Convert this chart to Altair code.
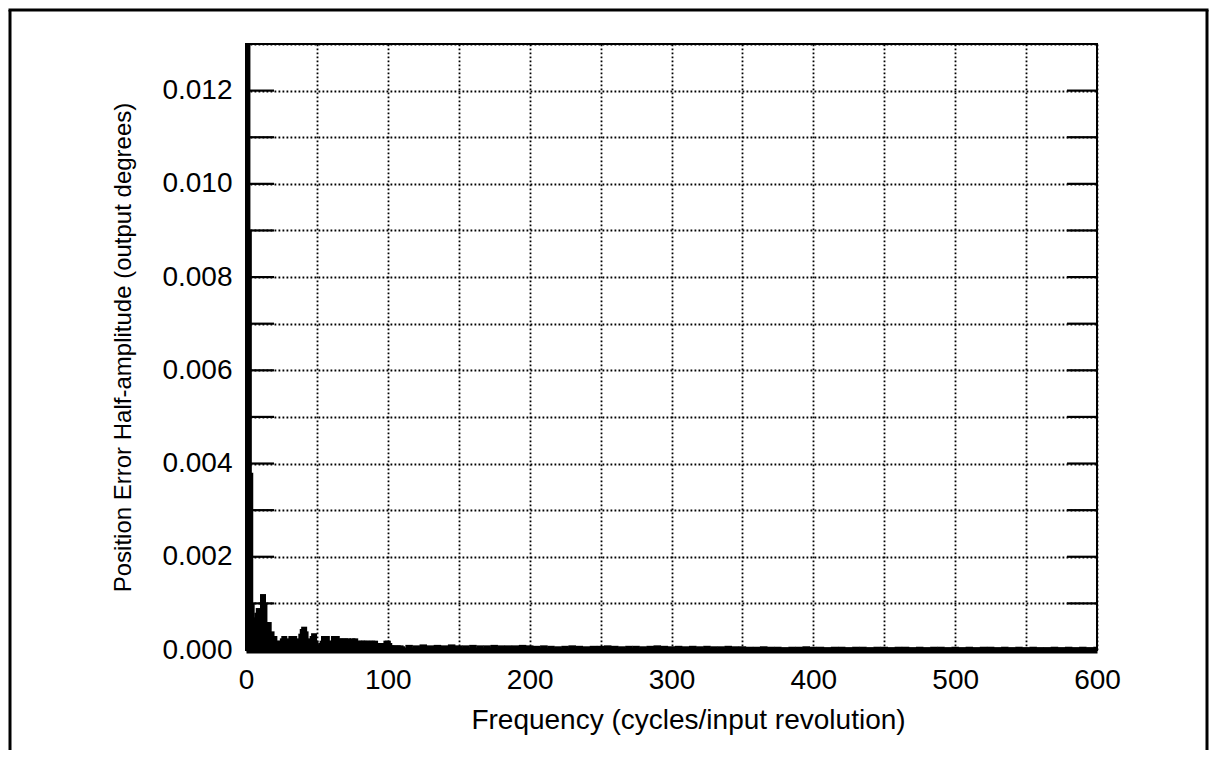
import altair as alt
import pandas as pd

# ---------------- data ----------------
low_freq = list(range(1, 111))
low_amp = [
    0.0135, 0.0090, 0.0038, 0.0010, 0.0005, 0.0007, 0.0004, 0.0008, 0.0009, 0.0008,
    0.0005, 0.0012, 0.0010, 0.0006, 0.0004, 0.0006, 0.0003, 0.0004, 0.0002, 0.0003,
    0.00015, 0.0002, 0.0001, 0.0002, 0.00015, 0.00025, 0.0003, 0.0002, 0.0002, 0.00025,
    0.0002, 0.0003, 0.0002, 0.0003, 0.00015, 0.0002, 0.00025, 0.0002, 0.00035, 0.00045,
    0.0005, 0.0004, 0.0002, 0.00025, 0.00015, 0.0002, 0.0003, 0.00036, 0.0002, 0.0001,
    0.00012, 0.0001, 0.00015, 0.0002, 0.0003, 0.00025, 0.0003, 0.0002, 0.00015, 0.0001,
    0.0002, 0.0003, 0.00025, 0.0003, 0.0002, 0.00025, 0.0002, 0.00025, 0.0002, 0.00025,
    0.0002, 0.00025, 0.0002, 0.0002, 0.00025, 0.0002, 0.00025, 0.0002, 0.00015, 0.0002,
    0.00015, 0.0002, 0.0002, 0.00015, 0.0002, 0.00015, 0.0002, 0.00015, 0.0002, 0.00015,
    0.0002, 0.00015, 0.0001, 0.00015, 0.0001, 0.00015, 0.0001, 0.00015, 0.0002, 0.0002,
    0.00015, 0.0001, 0.0001, 0.00008, 0.0001, 0.00008, 0.0001, 0.00008, 0.0001, 0.00008,
]

tail_freq = list(range(115, 601, 5))
tail_amp = [
    0.00011, 0.0001, 0.00012, 0.0001, 0.00011, 0.0001, 0.00012, 0.0001, 0.0001, 0.00011,
    0.0001, 0.0001, 0.00011, 0.0001, 0.0001, 0.0001, 0.00011, 0.0001,
    0.00009, 0.0001, 0.00009, 0.00008, 0.00009, 0.0001, 0.00009, 0.00008, 0.00009, 0.00009,
    0.0001, 0.00009, 0.00008, 0.00009, 0.00009, 0.00008, 0.00009, 0.0001, 0.00009, 0.00008,
    0.00009, 0.00008, 0.00009, 0.00008, 0.00009, 0.00008, 0.00008, 0.00009, 0.00008, 0.00008,
    0.00007, 0.00007, 0.00008, 0.00007, 0.00007, 0.00006, 0.00007, 0.00007, 0.00008, 0.00007,
    0.00007, 0.00006, 0.00007, 0.00007, 0.00006, 0.00007, 0.00007, 0.00006, 0.00007, 0.00007,
    0.00006, 0.00007, 0.00007, 0.00006, 0.00007, 0.00006, 0.00007, 0.00007, 0.00006, 0.00007,
    0.00006, 0.00007, 0.00006, 0.00007, 0.00007, 0.00006, 0.00007, 0.00006, 0.00007, 0.00006,
    0.00007, 0.00006, 0.00006, 0.00007, 0.00006, 0.00007, 0.00006, 0.00007, 0.00006, 0.00007,
]

x_grid_values = [0, 50, 100, 150, 200, 250, 300, 350, 400, 450, 500, 550, 600]
y_grid_values = [0.000, 0.001, 0.002, 0.003, 0.004, 0.005, 0.006, 0.007,
                 0.008, 0.009, 0.010, 0.011, 0.012, 0.013]
tick_marks = [0.001, 0.002, 0.003, 0.004, 0.005, 0.006, 0.007,
              0.008, 0.009, 0.010, 0.011, 0.012]

x_title = "Frequency (cycles/input revolution)"
y_title = "Position Error Half-amplitude (output degrees)"

FONT = "Liberation Sans"
W, H = 851, 606

low_df = pd.DataFrame({"f": low_freq, "a": low_amp})
tail_df = pd.DataFrame({"f": tail_freq, "a": tail_amp})
tick_df = pd.DataFrame({"v": tick_marks})
dummy = pd.DataFrame({"k": [0]})

xscale = alt.Scale(domain=[0, 600], nice=False, zero=True)
yscale = alt.Scale(domain=[0, 0.013], nice=False, zero=True)

xaxis = alt.Axis(
    title=x_title, values=x_grid_values,
    labelExpr="datum.value % 100 == 0 ? datum.label : ''",
    format="d", ticks=False, grid=True, gridColor="black", gridDash=[1.8, 2.2],
    gridWidth=1.8, gridOpacity=1, domain=True, domainColor="black", domainWidth=6,
    labelFont=FONT, labelFontSize=28, labelColor="black", labelPadding=16,
    labelFlush=False, labelOverlap=False,
    titleFont=FONT, titleFontSize=28, titleFontWeight="normal", titleColor="black",
    titlePadding=12, titleX=442, titleAlign="center",
)
yaxis = alt.Axis(
    title=y_title, values=y_grid_values,
    labelExpr="round(datum.value * 1000) % 2 == 0 ? format(datum.value, '.3f') : ''",
    ticks=False, grid=True, gridColor="black", gridDash=[1.8, 2.2],
    gridWidth=1.8, gridOpacity=1, domain=True, domainColor="black", domainWidth=3,
    labelFont=FONT, labelFontSize=28, labelColor="black", labelPadding=14,
    labelFlush=False, labelOverlap=False,
    titleFont=FONT, titleFontSize=24, titleFontWeight="normal", titleColor="black",
    titlePadding=26,
)

spikes = alt.Chart(low_df).mark_rule(strokeWidth=6, color="black", clip=True).encode(
    x=alt.X("f:Q", scale=xscale, axis=xaxis),
    y=alt.Y("a:Q", scale=yscale, axis=yaxis),
    y2=alt.datum(0),
)

tail = alt.Chart(tail_df).mark_rule(strokeWidth=7.5, color="black", clip=True).encode(
    x=alt.X("f:Q", scale=xscale),
    y=alt.Y("a:Q", scale=yscale),
    y2=alt.datum(0),
)

left_ticks = alt.Chart(tick_df).mark_rule(strokeWidth=2.2, color="black").encode(
    y=alt.Y("v:Q", scale=yscale),
    x=alt.value(0),
    x2=alt.value(28),
)
right_ticks = alt.Chart(tick_df).mark_rule(strokeWidth=2.2, color="black").encode(
    y=alt.Y("v:Q", scale=yscale),
    x=alt.value(W - 30),
    x2=alt.value(W),
)

# outer frame (left, top, right edges)
frame_left = alt.Chart(dummy).mark_rule(strokeWidth=3, color="black").encode(
    x=alt.value(-236), y=alt.value(-34), y2=alt.value(720))
frame_top = alt.Chart(dummy).mark_rule(strokeWidth=3, color="black").encode(
    x=alt.value(-237.5), x2=alt.value(962.5), y=alt.value(-34))
frame_right = alt.Chart(dummy).mark_rule(strokeWidth=3, color="black").encode(
    x=alt.value(961), y=alt.value(-34), y2=alt.value(720))

chart = alt.layer(
    tail, spikes, left_ticks, right_ticks, frame_left, frame_top, frame_right
).properties(
    width=W, height=H,
    autosize=alt.AutoSizeParams(type="none"),
    padding={"left": 238, "top": 36, "right": 112, "bottom": 100},
    background="white",
).configure_view(
    stroke="black", strokeWidth=2
)

chart.save("out.html", embed_options={"renderer": "svg", "actions": False})
